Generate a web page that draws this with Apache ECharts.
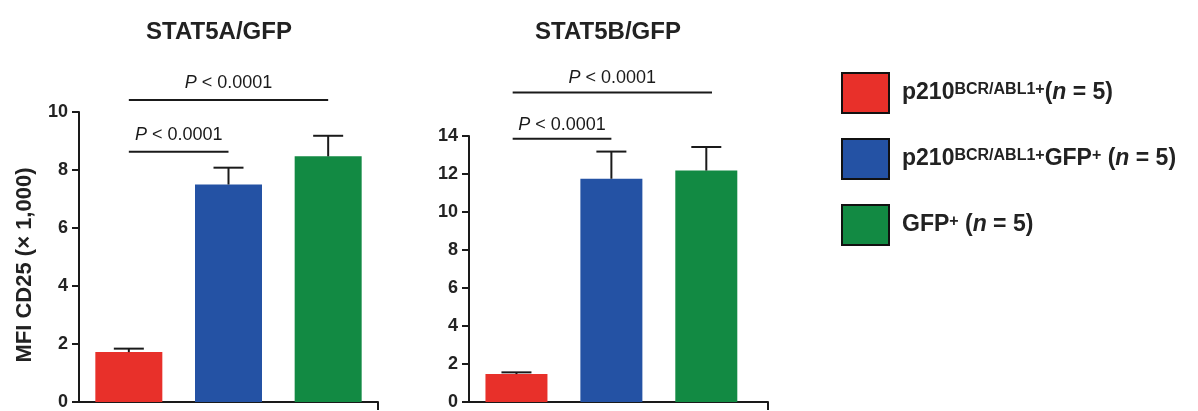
<!DOCTYPE html>
<html>
<head>
<meta charset="utf-8">
<script src="https://cdn.jsdelivr.net/npm/echarts@6/dist/echarts.min.js"></script>
<style>html,body{margin:0;padding:0;background:#fff}#c{width:1198px;height:411px}</style>
</head>
<body>
<div id="c"></div>
<script>
// ---- data ----
const groups = ['p210BCR/ABL1+', 'p210BCR/ABL1+GFP+', 'GFP+'];
const groupX = [0, 1, 2];
const chartTitles = ['STAT5A/GFP', 'STAT5B/GFP'];
const stat5aMeans = [1.72, 7.5, 8.47];
const stat5aUpper = [1.84, 8.08, 9.18];
const stat5bMeans = [1.47, 11.75, 12.18];
const stat5bUpper = [1.56, 13.18, 13.42];
const pLabel = 'P < 0.0001';
// brackets: [xStart, xEnd, yLevel]
const stat5aBrackets = [[0, 1, 8.63], [0, 2, 10.41]];
const stat5bBrackets = [[-0.04, 1.0, 13.85], [-0.04, 2.06, 16.29]];
const yAxisTitle = 'MFI CD25 (× 1,000)';
const yMaxA = 10, yMaxB = 14;

const colors = ['#e8302a', '#2452a4', '#128a43'];
const FONT = 'Liberation Sans, Arial, sans-serif';

const chart = echarts.init(document.getElementById('c'), null, {renderer: 'canvas'});

const grids = [
  {left: 79, top: 112, width: 299, height: 292},
  {left: 469, top: 136, width: 299, height: 269}
];
const xMax = [2.5, 2.65];
const barW = [67, 62];
const textLift = [17, 14];

const xAxes = grids.map((g, i) => ({
  type: 'value', gridIndex: i, min: -0.5, max: xMax[i],
  splitLine: {show: false}, axisLabel: {show: false},
  axisLine: {show: true, onZero: false, lineStyle: {color: '#1a1a1a', width: 2}},
  axisTick: {show: true, customValues: [xMax[i]], inside: false, length: 8, lineStyle: {color: '#1a1a1a', width: 2}}
}));
const yAxes = [yMaxA, yMaxB].map((m, i) => ({
  type: 'value', gridIndex: i, min: 0, max: m, interval: 2,
  splitLine: {show: false},
  axisLine: {show: true, onZero: false, lineStyle: {color: '#1a1a1a', width: 2}},
  axisTick: {show: true, length: 7, lineStyle: {color: '#1a1a1a', width: 2}},
  axisLabel: {color: '#222', fontFamily: FONT, fontWeight: 'bold', fontSize: 18, margin: 11}
}));

const series = [];
const meansArr = [stat5aMeans, stat5bMeans];
const upperArr = [stat5aUpper, stat5bUpper];
const brArr = [stat5aBrackets, stat5bBrackets];
[0, 1].forEach(ci => {
  groups.forEach((g, gi) => {
    series.push({
      type: 'bar', name: g, xAxisIndex: ci, yAxisIndex: ci,
      barWidth: barW[ci], barGap: '-100%',
      itemStyle: {color: colors[gi]},
      data: [[groupX[gi], meansArr[ci][gi]]],
      silent: true, z: 2
    });
  });
  // error bars
  series.push({
    type: 'custom', xAxisIndex: ci, yAxisIndex: ci, z: 3, silent: true,
    data: groupX.map((x, k) => [x, meansArr[ci][k], upperArr[ci][k]]),
    renderItem: (params, api) => {
      const base = api.coord([api.value(0), api.value(1)]);
      const top = api.coord([api.value(0), api.value(2)]);
      const cap = 15;
      const st = {stroke: '#1a1a1a', lineWidth: 2};
      return {type: 'group', children: [
        {type: 'line', shape: {x1: base[0], y1: base[1], x2: top[0], y2: top[1]}, style: st},
        {type: 'line', shape: {x1: top[0] - cap, y1: top[1], x2: top[0] + cap, y2: top[1]}, style: st}
      ]};
    }
  });
  // significance brackets
  series.push({
    type: 'custom', xAxisIndex: ci, yAxisIndex: ci, z: 3, silent: true, clip: false,
    data: brArr[ci],
    renderItem: (params, api) => {
      const a = api.coord([api.value(0), api.value(2)]);
      const b = api.coord([api.value(1), api.value(2)]);
      return {type: 'group', children: [
        {type: 'line', shape: {x1: a[0], y1: a[1], x2: b[0], y2: b[1]}, style: {stroke: '#1a1a1a', lineWidth: 2}},
        {type: 'text', x: (a[0] + b[0]) / 2, y: a[1] - textLift[ci], style: {
          text: '{i|P} < 0.0001', x: 0, y: 0, align: 'center', verticalAlign: 'middle',
          fontFamily: FONT, fontSize: 18, fill: '#1a1a1a',
          rich: {i: {fontStyle: 'italic', fontFamily: FONT, fontSize: 18, fill: '#1a1a1a'}}
        }}
      ]};
    }
  });
});

const legendNames = {
  'p210BCR/ABL1+': 'p210{sup|BCR/ABL1+}({i|n} = 5)',
  'p210BCR/ABL1+GFP+': 'p210{sup|BCR/ABL1+}GFP{sup|+} ({i|n} = 5)',
  'GFP+': 'GFP{sup|+} ({i|n} = 5)'
};

chart.setOption({
  animation: false,
  backgroundColor: '#fff',
  grid: grids,
  xAxis: xAxes,
  yAxis: yAxes,
  series: series,
  legend: {
    data: groups, orient: 'vertical', left: 836, top: 67,
    itemWidth: 47, itemHeight: 40, itemGap: 24, icon: 'rect',
    itemStyle: {borderColor: '#111', borderWidth: 2},
    selectedMode: false,
    formatter: n => legendNames[n],
    textStyle: {
      fontFamily: FONT, fontWeight: 'bold', fontSize: 23, color: '#222', padding: [0, 0, 0, 8],
      rich: {
        sup: {fontFamily: FONT, fontWeight: 'bold', fontSize: 16, color: '#222', verticalAlign: 'top'},
        i: {fontFamily: FONT, fontWeight: 'bold', fontStyle: 'italic', fontSize: 23, color: '#222'}
      }
    }
  },
  graphic: [
    {type: 'text', x: 219, y: 32, style: {text: chartTitles[0], align: 'center', verticalAlign: 'middle', fontFamily: FONT, fontWeight: 'bold', fontSize: 24, fill: '#222'}},
    {type: 'text', x: 608, y: 32, style: {text: chartTitles[1], align: 'center', verticalAlign: 'middle', fontFamily: FONT, fontWeight: 'bold', fontSize: 24, fill: '#222'}},
    {type: 'text', x: 25, y: 265, rotation: Math.PI / 2, style: {text: yAxisTitle, align: 'center', verticalAlign: 'middle', fontFamily: FONT, fontWeight: 'bold', fontSize: 22, fill: '#222'}}
  ]
});
</script>
</body>
</html>
